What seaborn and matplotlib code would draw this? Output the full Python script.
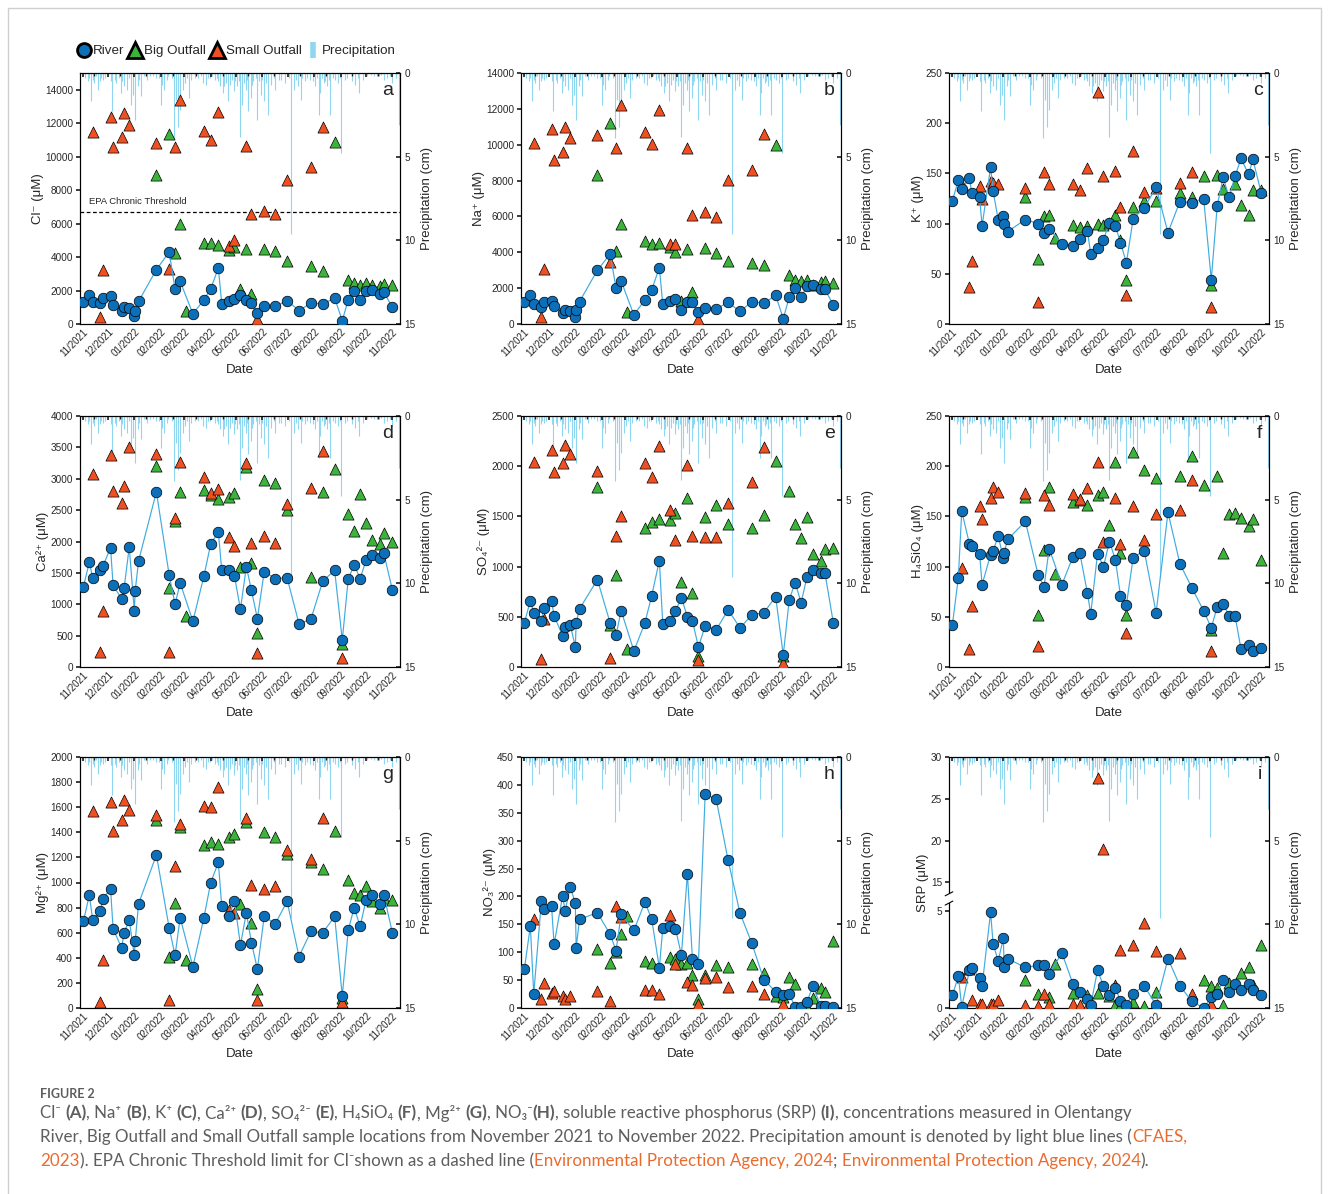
import numpy as np
import pandas as pd
import matplotlib
matplotlib.use("Agg")
import matplotlib.pyplot as plt
import matplotlib.dates as mdates
import seaborn as sns
from matplotlib.lines import Line2D
from matplotlib.patches import Rectangle

N = np.nan

SAMPLE_DATES = ["2021-11-02", "2021-11-09", "2021-11-13", "2021-11-22", "2021-11-25",
                "2021-12-04", "2021-12-07", "2021-12-17", "2021-12-20", "2021-12-26",
                "2022-01-01", "2022-01-02", "2022-01-06", "2022-01-27", "2022-02-11",
                "2022-02-18", "2022-02-24", "2022-03-03", "2022-03-11", "2022-03-24",
                "2022-04-01", "2022-04-10", "2022-04-14", "2022-04-22", "2022-04-29",
                "2022-05-06", "2022-05-13", "2022-05-19", "2022-05-26", "2022-06-03",
                "2022-06-16", "2022-06-30", "2022-07-14", "2022-07-28", "2022-08-11",
                "2022-08-25", "2022-09-03", "2022-09-10", "2022-09-17", "2022-09-24",
                "2022-10-01", "2022-10-08", "2022-10-17", "2022-10-22", "2022-11-01"]

# Cl-
A_RIVER = [1300, 1750, 1300, 1250, 1550, 1700, 1150, 800, 1000, 950, 500, 800, 1350, 3250, 4300, 2100, 2550, N, 600, 1450,
           2100, 3350, 1200, 1350, 1500, 1750, 1450, 1250, 650, 1100, 1050, 1400, 800, 1250, 1200, 1550, 200, 1450, 1950, 1450,
           2000, 2050, 1800, 1900, 1000]
A_BIG = [N, N, N, N, N, N, N, N, N, N, N, N, N, 8900, 11350, 4250, 6000, 800, N, 4850,
         4850, 4750, N, 4400, 4600, 2100, 4500, 1800, N, 4500, 4350, 3750, N, 3450, 3150, 10900, N, 2650, 2450, 2350,
         2450, 2350, 2300, 2400, 2350]
A_SMALL = [N, N, 11500, 400, 3250, 12400, 10550, 11150, 12600, 11900, N, N, N, 10800, 3300, 10550, 13400, N, N, 11550,
           11000, 12650, N, 4650, 5000, N, 10650, 6600, 300, 6750, 6550, 8600, N, 9400, 11750, N, N, N, N, N,
           N, N, N, N, N]
# Na+
B_RIVER = [1250, 1600, 1100, 950, 1250, 1300, 1000, 600, 800, 750, 400, 800, 1250, 3000, 3900, 2000, 2400, N, 500, 1350,
           1900, 3150, 1100, 1300, 1400, 800, 1200, 1200, 650, 900, 850, 1200, 700, 1250, 1150, 1600, 300, 1500, 2000, 1500,
           2100, 2150, 1950, 1950, 1050]
B_BIG = [N, N, N, N, N, N, N, N, N, N, N, N, N, 8300, 11200, 4050, 5600, 650, N, 4650,
         4450, 4500, N, 4300, 4000, 1300, 4200, 1800, N, 4250, 3950, 3500, N, 3400, 3300, 10000, N, 2750, 2450, 2400,
         2450, 2200, 2350, 2400, 2300]
B_SMALL = [N, N, 10100, 400, 3050, 10900, 9150, 9600, 11000, 10400, N, N, N, 10550, 3450, 9800, 12200, N, N, 10700,
           10050, 11950, N, 4450, 4450, N, 9800, 6100, 300, 6250, 5950, 8050, N, 8600, 10600, N, 50, N, N, N,
           N, N, N, N, N]
# K+
C_RIVER = [123, 143, 134, 145, 130, 126, 98, 156, 132, 104, 108, 100, 92, 104, 100, 91, 95, N, 80, 78,
           85, 93, 70, 76, 84, 101, 98, 81, 61, 105, 116, 136, 91, 122, 121, 125, 44, 118, 146, 126,
           147, 165, 149, 164, 130]
C_BIG = [N, N, N, N, N, N, N, N, N, N, N, N, N, 126, 65, 108, 109, 86, N, 99,
         97, 98, N, 100, 99, 101, 109, 84, 44, 117, 123, 123, N, 130, 126, 147, 39, 148, 134, N,
         139, 119, 109, 133, 133]
C_SMALL = [N, N, 138, 37, 63, 137, 125, 142, 140, 139, N, N, N, 135, 22, 151, 139, N, N, 139,
           133, 155, N, 231, 147, N, 152, 117, 29, 172, 131, 135, N, 140, 151, N, 17, N, N, N,
           N, N, N, N, N]
# Ca2+
D_RIVER = [1280, 1670, 1420, 1540, 1610, 1900, 1300, 1090, 1260, 1910, 890, 1210, 1690, 2790, 1470, 1000, 1340, N, 730, 1450,
           1960, 2150, 1540, 1550, 1450, 920, 1600, 1220, 770, 1520, 1410, 1420, 690, 760, 1370, 1540, 430, 1400, 1630, 1410,
           1700, 1790, 1740, 1810, 1230]
D_BIG = [N, N, N, N, N, N, N, N, N, N, N, N, N, 3200, 1260, 2320, 2790, 820, N, 2820,
         2740, 2680, N, 2710, 2770, 1590, 3180, 1650, 540, 2980, 2930, 2500, N, 1430, 2790, 3160, 360, 2440, 2170, 2750,
         2290, 2020, 1960, 2140, 2000]
D_SMALL = [N, N, 3070, 240, 890, 3380, 2810, 2610, 2880, 3500, N, N, N, 3390, 240, 2370, 3270, N, N, 3030,
           2770, 2840, N, 2070, 1930, N, 3250, 1980, 230, 2090, 1970, 2590, N, 2850, 3440, N, 140, N, N, N,
           N, N, N, N, N]
# SO4 2-
E_RIVER = [440, 660, 540, 460, 590, 660, 510, 310, 400, 420, 200, 440, 580, 870, 440, 320, 560, N, 160, 440,
           710, 1060, 430, 460, 560, 690, 500, 460, 200, 410, 370, 570, 390, 520, 540, 700, 120, 670, 840, 640,
           900, 970, 940, 940, 440]
E_BIG = [N, N, N, N, N, N, N, N, N, N, N, N, N, 1790, 420, 920, N, 175, N, 1380,
         1440, 1470, N, 1460, 1530, 850, 1680, 740, 110, 1490, 1610, 1420, N, 1380, 1510, 2050, 110, 1750, 1420, 1280,
         1490, 1130, 1060, 1180, 1190]
E_SMALL = [N, N, 2040, 80, 480, 2160, 1940, 2030, 2210, 2120, N, N, N, 1950, 90, 1300, 1500, N, N, 2030,
           1890, 2200, N, 1560, 1260, N, 2010, 1300, 70, 1290, 1290, 1630, N, 1840, 2190, N, 40, N, N, N,
           N, N, N, N, N]
# H4SiO4
F_RIVER = [42, 89, 155, 123, 121, 113, 82, 112, 116, 130, 109, 114, 127, 145, 92, 80, 118, N, 82, 110,
           114, 74, 53, 113, 100, 125, 107, 71, 62, 109, 116, 54, 154, 103, 79, 56, 39, 60, 63, 51,
           51, 18, 22, 16, 19]
F_BIG = [N, N, N, N, N, N, N, N, N, N, N, N, N, 169, 52, 117, 179, 93, N, 164,
         166, 161, N, 171, 174, 141, 204, 114, 52, 214, 196, 188, N, 190, 210, 181, 37, 190, 114, 152,
         153, 148, 140, 147, 107]
F_SMALL = [N, N, 99, 18, 61, 160, 147, 168, 179, 174, N, N, N, 173, 21, 171, 161, N, N, 172,
           167, 178, N, 204, 125, N, 168, 123, 34, 160, 126, 152, N, 156, 186, N, 16, N, N, N,
           N, N, N, N, N]
# Mg2+
G_RIVER = [690, 900, 700, 770, 870, 950, 630, 480, 600, 700, 420, 530, 830, 1220, 640, 420, 720, N, 330, 720,
           1000, 1160, 810, 730, 850, 500, 760, 520, 310, 730, 670, 850, 410, 610, 600, 730, 95, 620, 800, 650,
           860, 900, 830, 900, 600]
G_BIG = [N, N, N, N, N, N, N, N, N, N, N, N, N, 1500, 410, 840, 1440, 380, N, 1300,
         1320, 1310, N, 1360, 1390, 830, 1480, 680, 150, 1400, 1360, 1230, N, 1160, 1110, 1410, 80, 1020, 920, 900,
         970, 850, 800, 880, 860]
G_SMALL = [N, N, 1570, 50, 380, 1640, 1410, 1500, 1660, 1580, N, N, N, 1540, 60, 1130, 1470, N, N, 1610,
           1600, 1760, N, 780, 760, N, 1510, 980, 60, 950, 970, 1260, N, 1190, 1510, N, 50, N, N, N,
           N, N, N, N, N]
# NO3
H_RIVER = [70, 147, 25, 191, 177, 182, 114, 201, 174, 217, 188, 108, 159, 171, 132, 103, 168, N, 139, 190,
           159, 72, 143, 147, 142, 95, 241, 88, 79, 384, 374, 265, 170, 116, 51, 29, 23, 25, 2, 2,
           11, 40, 3, 4, 1]
H_BIG = [N, N, N, N, N, N, N, N, N, N, N, N, N, 105, 80, 100, 132, 165, N, 84,
         80, N, N, 92, 88, 78, 80, 60, 17, 60, 77, 74, N, 78, 62, 22, 20, 55, 43, N,
         2, 18, 35, 28, 120]
H_SMALL = [N, N, 159, 16, 45, 27, 30, 22, 16, 22, N, N, N, 31, 13, 182, 163, N, N, 33,
           33, 25, N, 166, 78, N, 46, 42, 8, 53, 56, 38, N, 39, 25, N, 7, N, N, N,
           N, N, N, N, N]
# SRP
I_RIVER = [0.65, 1.65, 0.05, 1.95, 2.05, 1.55, 1.15, 4.95, 3.3, 2.45, 3.6, 2.1, 2.55, 2.1, 2.2, 2.25, 1.75, N, 2.85, 1.25,
           0.85, 0.45, 0.15, 1.95, 1.15, 0.65, 1.05, 0.35, 0.15, 0.75, 1.15, 0.15, 2.55, 1.15, 0.35, 0.0, 0.55, 0.75, 1.45, 0.85,
           1.25, 0.95, 1.25, 0.95, 0.65]
I_BIG = [N, N, N, N, N, N, N, N, N, N, N, N, N, 1.45, 0.7, N, 0.55, 2.3, N, 0.8,
         N, 0.65, N, 0.8, N, 0.6, 0.15, 0.1, N, 0.3, 0.1, 0.85, N, N, N, 1.45, 1.15, 1.05, 0.15, 1.3,
         N, 1.8, 2.1, 1.2, 3.25]
I_SMALL = [N, N, 1.6, 2.0, 0.4, 0.2, 0.2, 0.2, 0.2, 0.4, N, N, N, 0.15, 0.1, 0.7, 0.2, N, N, 0.2,
           0.15, 0.05, N, 27.5, 19.0, N, 1.2, 3.0, 0.0, 3.25, 4.4, 2.95, N, 2.85, 0.7, N, 0.2, N, N, N,
           N, N, N, N, N]

PRECIP_START = "2021-11-01"
PRECIP_DAY = [1, 3, 6, 8, 10, 12, 14, 16, 18, 20, 22, 24, 27, 30, 33, 35, 38, 40, 43, 45,
              47, 49, 52, 55, 57, 59, 62, 65, 67, 69, 72, 76, 80, 83, 86, 90, 93, 94, 96, 99,
              101, 105, 108, 110, 112, 113, 115, 118, 121, 123, 125, 128, 132, 136, 139, 142, 145, 148, 150, 153,
              156, 158, 160, 162, 165, 167, 169, 171, 174, 176, 178, 180, 182, 184, 185, 188, 190, 192, 194, 195,
              198, 200, 201, 204, 206, 208, 210, 212, 214, 216, 219, 222, 225, 227, 231, 234, 239, 243, 246, 249,
              251, 254, 257, 259, 262, 265, 268, 271, 274, 276, 278, 280, 282, 284, 286, 288, 290, 292, 295, 298,
              301, 303, 305, 309, 312, 317, 321, 324, 326, 330, 333, 335, 340, 343, 347, 349, 352, 355, 359, 362,
              365, 369, 373]
PRECIP_CM = [0.2, 0.3, 0.5, 0.3, 1.7, 0.4, 0.6, 0.2, 1.0, 0.5, 0.3, 0.4, 0.3, 0.2, 0.5, 2.3, 0.4, 0.6, 0.3, 1.2,
             0.5, 0.8, 1.0, 0.3, 1.9, 1.3, 2.8, 0.8, 0.4, 1.4, 0.2, 0.4, 0.2, 0.2, 0.3, 0.3, 1.9, 0.7, 1.0, 0.4,
             0.2, 0.3, 3.9, 1.6, 0.5, 3.2, 2.2, 1.0, 0.6, 0.3, 1.5, 0.4, 0.3, 0.3, 0.2, 0.6, 0.7, 0.3, 0.3, 0.2,
             0.4, 0.3, 0.5, 0.8, 1.2, 0.8, 0.6, 1.7, 0.7, 0.4, 1.1, 0.5, 0.8, 0.5, 3.8, 1.9, 0.6, 1.0, 0.4, 2.3,
             1.5, 0.7, 0.5, 0.3, 2.8, 0.5, 1.3, 0.4, 1.7, 0.6, 2.5, 0.7, 0.3, 1.0, 0.4, 0.4, 0.6, 0.3, 9.6, 1.0,
             0.4, 0.8, 1.6, 0.3, 0.5, 0.3, 0.4, 0.5, 0.8, 0.3, 2.5, 1.2, 0.3, 0.6, 0.5, 0.8, 0.4, 2.5, 0.3, 0.4,
             0.6, 0.3, 4.8, 0.4, 0.3, 0.5, 0.7, 0.3, 1.2, 0.4, 0.2, 0.2, 0.1, 0.2, 0.2, 0.2, 0.1, 0.4, 0.3, 0.2,
             0.6, 0.3, 3.1]

PANEL_LETTERS = ["a", "b", "c", "d", "e", "f", "g", "h", "i"]
Y_LABELS = ["Cl\u207b (\u03bcM)", "Na\u207a (\u03bcM)", "K\u207a (\u03bcM)", "Ca\u00b2\u207a (\u03bcM)",
            "SO\u2084\u00b2\u207b (\u03bcM)", "H\u2084SiO\u2084 (\u03bcM)", "Mg\u00b2\u207a (\u03bcM)",
            "NO\u2083\u00b2\u207b (\u03bcM)", "SRP (\u03bcM)"]
Y_MAX = [15000, 14000, 250, 4000, 2500, 250, 2000, 450, 30]
Y_TICK_TOP = [14000, 14000, 250, 4000, 2500, 250, 2000, 450, 30]
Y_STEP = [2000, 2000, 50, 500, 500, 50, 200, 50, 5]
EPA_THRESHOLD = 6700

RIVERS = [A_RIVER, B_RIVER, C_RIVER, D_RIVER, E_RIVER, F_RIVER, G_RIVER, H_RIVER, I_RIVER]
BIGS = [A_BIG, B_BIG, C_BIG, D_BIG, E_BIG, F_BIG, G_BIG, H_BIG, I_BIG]
SMALLS = [A_SMALL, B_SMALL, C_SMALL, D_SMALL, E_SMALL, F_SMALL, G_SMALL, H_SMALL, I_SMALL]

# ---------------- style ----------------
BLUE = "#0b6fba"
LINEBLUE = "#3fabe0"
GREEN = "#3cb43c"
RED = "#ef5022"
PCOL = "#8fd6f0"
CAP_GRAY = "#5e5e5e"
CAP_ORANGE = "#ea6b2d"

sns.set_theme(style="white")
plt.rcParams["font.family"] = ["Liberation Sans", "DejaVu Sans"]
plt.rcParams["axes.linewidth"] = 0.8
plt.rcParams["axes.edgecolor"] = "black"

W, H = 1329, 1194
fig = plt.figure(figsize=(W / 100, H / 100), dpi=100)

col_left = [80, 521, 949]
row_top = [73, 416, 757]
ax_w, ax_h = 320, 251

dates = pd.to_datetime(SAMPLE_DATES)
pdates = pd.Timestamp(PRECIP_START) + pd.to_timedelta(PRECIP_DAY, unit="D")
xmin, xmax = pd.Timestamp("2021-10-29"), pd.Timestamp("2022-11-10")


def srp_fwd(y):
    y = np.asarray(y, float)
    lo = y * 0.077
    hi = 0.5007 + (y - 15.0) * 0.03329
    mid = 0.4158 + (y - 5.4) / (13.7 - 5.4) * (0.4574 - 0.4158)
    return np.where(y <= 5.4, lo, np.where(y >= 13.7, hi, mid))


def srp_inv(f):
    f = np.asarray(f, float)
    lo = f / 0.077
    hi = 15.0 + (f - 0.5007) / 0.03329
    mid = 5.4 + (f - 0.4158) / (0.4574 - 0.4158) * (13.7 - 5.4)
    return np.where(f <= 0.4158, lo, np.where(f >= 0.4574, hi, mid))


for k in range(9):
    r, c = divmod(k, 3)
    left = col_left[c] / W
    bottom = 1 - (row_top[r] + ax_h) / H
    ax = fig.add_axes([left, bottom, ax_w / W, ax_h / H])
    ax2 = ax.twinx()

    # precipitation (hanging lines on inverted secondary axis)
    ax2.vlines(pdates, 0, PRECIP_CM, color=PCOL, lw=0.8)
    ax2.set_ylim(15, 0)
    ax2.set_yticks([0, 5, 10, 15])
    ax2.set_ylabel("Precipitation (cm)", fontsize=9.5, labelpad=4)
    ax2.tick_params(axis="y", direction="in", length=3, labelsize=7.2, pad=3)
    ax2.grid(False)

    ax.set_zorder(ax2.get_zorder() + 1)
    ax.patch.set_visible(False)

    df = pd.DataFrame({"date": dates, "River": RIVERS[k],
                       "Big Outfall": BIGS[k], "Small Outfall": SMALLS[k]})

    if k == 8:
        ax.set_yscale("function", functions=(srp_fwd, srp_inv))

    sns.scatterplot(data=df, x="date", y="Big Outfall", marker="^", s=64, color=GREEN,
                    edgecolor="black", linewidth=0.5, ax=ax, zorder=3, legend=False)
    sns.scatterplot(data=df, x="date", y="Small Outfall", marker="^", s=64, color=RED,
                    edgecolor="black", linewidth=0.5, ax=ax, zorder=4, legend=False)
    riv = df.dropna(subset=["River"])
    sns.lineplot(data=riv, x="date", y="River", color=LINEBLUE, lw=0.85, ax=ax,
                 zorder=5, estimator=None, sort=True, legend=False)
    sns.scatterplot(data=riv, x="date", y="River", marker="o", s=58, color=BLUE,
                    edgecolor="black", linewidth=0.5, ax=ax, zorder=6, legend=False)

    ax.set_xlim(xmin, xmax)
    ax.set_ylim(0, Y_MAX[k])
    if k == 8:
        ax.set_yticks([0, 5, 15, 20, 25, 30])
    else:
        ax.set_yticks(np.arange(0, Y_TICK_TOP[k] + 1, Y_STEP[k]))
    ax.xaxis.set_major_locator(mdates.MonthLocator())
    ax.xaxis.set_major_formatter(mdates.DateFormatter("%m/%Y"))
    ax.xaxis.set_minor_locator(mdates.MonthLocator(bymonthday=15))
    ax.tick_params(axis="x", which="major", direction="in", length=3, top=True,
                   labelsize=7.0, pad=2)
    ax.tick_params(axis="x", which="minor", direction="in", length=2, top=True, bottom=False)
    for lab in ax.get_xticklabels():
        lab.set_rotation(45)
        lab.set_ha("right")
        lab.set_rotation_mode("anchor")
    ax.tick_params(axis="y", direction="out", length=3, labelsize=7.2, pad=2, left=True)
    ax.set_xlabel("Date", fontsize=9.5, labelpad=4)
    ax.set_ylabel(Y_LABELS[k], fontsize=9.5, labelpad=1)
    ax.grid(False)
    ax.text(0.98, 0.965, PANEL_LETTERS[k], transform=ax.transAxes, ha="right", va="top",
            fontsize=14, zorder=10)

    if k == 0:
        ax.axhline(EPA_THRESHOLD, ls=(0, (3, 2)), color="black", lw=0.9, zorder=2)
        ax.text(pd.Timestamp("2021-11-09"), EPA_THRESHOLD + 350, "EPA Chronic Threshold",
                fontsize=6.8, ha="left", va="bottom")

    if k == 8:
        # axis break marks on left spine
        ax.add_patch(Rectangle((-0.01, 0.418), 0.02, 0.037, transform=ax.transAxes,
                               facecolor="white", edgecolor="none", clip_on=False, zorder=20))
        for yb in (0.418, 0.455):
            ax.plot([-0.012, 0.012], [yb - 0.008, yb + 0.008], transform=ax.transAxes,
                    color="black", lw=0.8, clip_on=False, zorder=21)

# ---------------- legend ----------------
handles = [
    Line2D([], [], ls="", marker="o", ms=10, mfc=BLUE, mec="black", mew=2),
    Line2D([], [], ls="", marker="^", ms=11, mfc=GREEN, mec="black", mew=2),
    Line2D([], [], ls="", marker="^", ms=11, mfc=RED, mec="black", mew=2),
    Line2D([], [], ls="", marker="|", ms=12, mec=PCOL, mew=4),
]
fig.legend(handles, ["River", "Big Outfall", "Small Outfall", "Precipitation"],
           loc="center left", bbox_to_anchor=(77 / W, 1 - 51 / H), ncol=4, frameon=False,
           handletextpad=0.2, columnspacing=0.3, handlelength=1.0, fontsize=9.6,
           borderaxespad=0, borderpad=0)

# ---------------- page border ----------------
fig.add_artist(Rectangle((8 / W, -0.05), (W - 16) / W, 1.05 - 8 / H, transform=fig.transFigure,
                         facecolor="none", edgecolor="#cfcfcf", lw=1.0))

# ---------------- caption ----------------
CAP_FONT = ["Lato", "DejaVu Sans"]
renderer = fig.canvas.get_renderer()


def seg_width(s, size, weight):
    t1 = fig.text(0, 0, s + "|", fontsize=size, fontweight=weight, family=CAP_FONT)
    t2 = fig.text(0, 0, "|", fontsize=size, fontweight=weight, family=CAP_FONT)
    w = t1.get_window_extent(renderer).width - t2.get_window_extent(renderer).width
    t1.remove()
    t2.remove()
    return w


def draw_line(x_px, y_px, segs, size=12.25):
    x = x_px
    for s, weight, color in segs:
        fig.text(x / W, 1 - y_px / H, s, fontsize=size, fontweight=weight, color=color,
                 family=CAP_FONT, va="center", ha="left")
        x += seg_width(s, size, weight)


fig.text(40 / W, 1 - 1094 / H, "FIGURE 2", fontsize=9, fontweight="bold", color=CAP_GRAY,
         family=CAP_FONT, va="center", ha="left")
n, b, g, o = "normal", "bold", CAP_GRAY, CAP_ORANGE
line1 = [("Cl\u207b ", n, g), ("(A)", b, g), (", Na\u207a ", n, g), ("(B)", b, g), (", K\u207a ", n, g),
         ("(C)", b, g), (", Ca\u00b2\u207a ", n, g), ("(D)", b, g), (", SO\u2084\u00b2\u207b ", n, g),
         ("(E)", b, g), (", H\u2084SiO\u2084 ", n, g), ("(F)", b, g), (", Mg\u00b2\u207a ", n, g),
         ("(G)", b, g), (", NO\u2083\u207b", n, g), ("(H)", b, g),
         (", soluble reactive phosphorus (SRP) ", n, g), ("(I)", b, g),
         (", concentrations measured in Olentangy", n, g)]
line2 = [("River, Big Outfall and Small Outfall sample locations from November 2021 to November 2022. "
          "Precipitation amount is denoted by light blue lines (", n, g), ("CFAES,", n, o)]
line3 = [("2023", n, o), ("). EPA Chronic Threshold limit for Cl\u207bshown as a dashed line (", n, g),
         ("Environmental Protection Agency, 2024", n, o), ("; ", n, g),
         ("Environmental Protection Agency, 2024", n, o), (").", n, g)]
draw_line(40, 1113, line1)
draw_line(40, 1137, line2)
draw_line(40, 1161, line3)

fig.savefig("out.png", dpi=100)
